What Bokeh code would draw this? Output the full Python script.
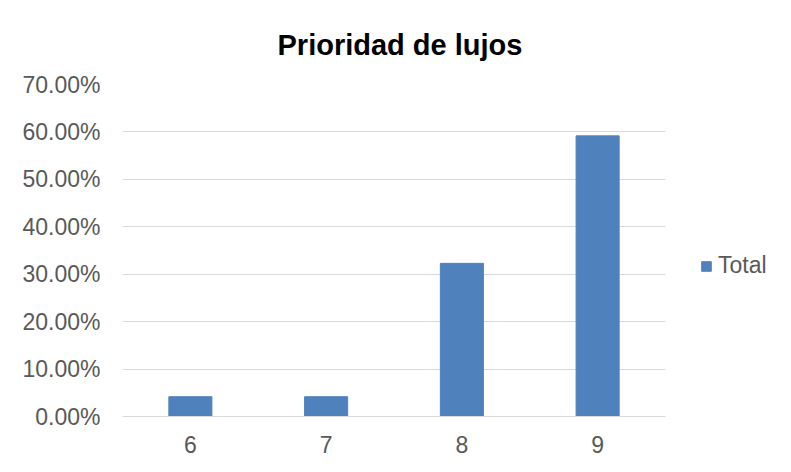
from bokeh.plotting import figure
from bokeh.models import ColumnDataSource, Range1d, NumeralTickFormatter, FixedTicker, Legend, LegendItem
from bokeh.embed import file_html
from bokeh.resources import INLINE

categories = ["6", "7", "8", "9"]
values = [0.0417, 0.0417, 0.3229, 0.5917]
series_name = "Total"
y_ticks = [0.0, 0.1, 0.2, 0.3, 0.4, 0.5, 0.6, 0.7]

FONT = "Liberation Sans"
TEXT = "#595959"
GRID = "#d9d9d9"
BAR = "#4f81bd"

src = ColumnDataSource(dict(cat=categories, val=values))

p = figure(x_range=categories, y_range=Range1d(0, 0.70),
           frame_width=543, frame_height=332, output_backend="svg", toolbar_location=None,
           min_border_left=122, min_border_right=126, min_border_top=84, min_border_bottom=56)

r = p.vbar(x="cat", top="val", width=0.317, source=src, fill_color=BAR, line_color=BAR)

p.title.text = "Prioridad de lujos"
p.title.text_font = FONT
p.title.text_font_size = "29px"
p.title.text_font_style = "bold"
p.title.text_color = "#000000"
p.title.align = "left"
p.title.offset = 155
p.title.standoff = 47

p.outline_line_color = None
p.xgrid.grid_line_color = None
p.ygrid.grid_line_color = GRID
p.ygrid.grid_line_width = 1

p.yaxis.ticker = FixedTicker(ticks=y_ticks)
p.yaxis.formatter = NumeralTickFormatter(format="0.00%")
p.yaxis.axis_line_color = None
p.yaxis.major_tick_line_color = None
p.yaxis.major_tick_out = 0
p.yaxis.major_tick_in = 0
p.yaxis.minor_tick_line_color = None
p.yaxis.major_label_standoff = 22
p.yaxis.major_label_text_font = FONT
p.yaxis.major_label_text_font_size = "23px"
p.yaxis.major_label_text_color = TEXT

p.xaxis.axis_line_color = GRID
p.xaxis.major_tick_line_color = None
p.xaxis.major_tick_out = 0
p.xaxis.major_tick_in = 0
p.xaxis.minor_tick_line_color = None
p.xaxis.major_label_standoff = 19
p.xaxis.major_label_text_font = FONT
p.xaxis.major_label_text_font_size = "23px"
p.xaxis.major_label_text_color = TEXT

legend = Legend(items=[LegendItem(label=series_name, renderers=[r])],
                location=(35, 137), orientation="vertical",
                padding=0, margin=0, border_line_color=None, background_fill_alpha=0,
                glyph_width=12, glyph_height=12, label_standoff=6,
                label_text_font=FONT, label_text_font_size="23px", label_text_color=TEXT)
p.add_layout(legend, "right")

open("out.html", "w").write(file_html(p, INLINE))
